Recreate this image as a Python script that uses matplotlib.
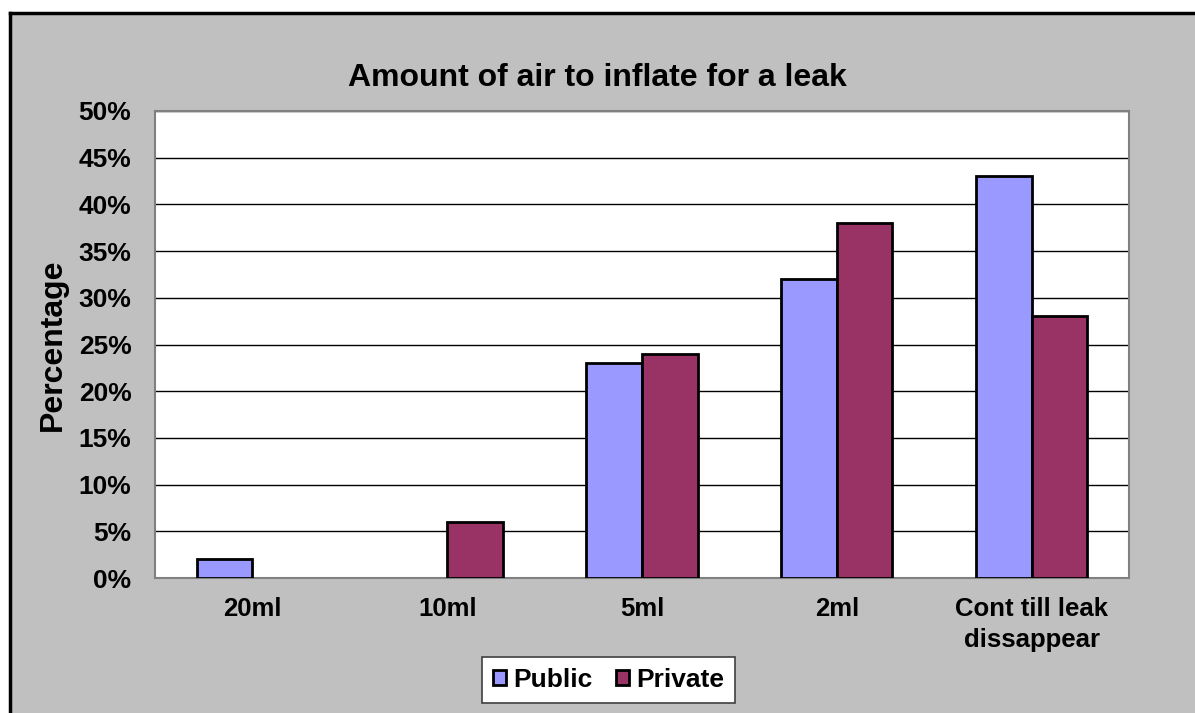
import matplotlib
matplotlib.use("Agg")
import matplotlib.pyplot as plt
import numpy as np
from matplotlib.patches import Rectangle
from matplotlib.lines import Line2D
from matplotlib.ticker import FuncFormatter, MultipleLocator

categories = ["20ml", "10ml", "5ml", "2ml", "Cont till leak\ndissappear"]
public = [2, 0, 23, 32, 43]
private = [0, 6, 24, 38, 28]
series_names = ["Public", "Private"]
title = "Amount of air to inflate for a leak"
ylabel = "Percentage"

plt.rcParams["font.family"] = ["Liberation Sans", "DejaVu Sans"]
plt.rcParams["font.weight"] = "bold"

W, H = 1195, 713
fig = plt.figure(figsize=(W / 100, H / 100), dpi=100, facecolor="white")

# chart area background with a black frame on the top and left
fig.patches.append(Rectangle((10 / W, 0), 1 - 10 / W, 1 - 13 / H,
                             transform=fig.transFigure, facecolor="#C0C0C0",
                             edgecolor="none", zorder=-2))
fig.lines.append(Line2D([10 / W, 10 / W], [0, 1 - 13 / H], transform=fig.transFigure,
                        color="black", lw=2.5, zorder=-1))
fig.lines.append(Line2D([10 / W, 1], [1 - 13 / H, 1 - 13 / H], transform=fig.transFigure,
                        color="black", lw=2.5, zorder=-1))

left, right, top, bottom = 155, 1129, 111, 578
ax = fig.add_axes([left / W, (H - bottom) / H, (right - left) / W, (bottom - top) / H])
ax.set_facecolor("white")

x = np.arange(len(categories))
bw = 1 / 3.5
ax.bar(x - bw / 2, public, bw, color="#9999FF", edgecolor="black",
       linewidth=[2 if v else 0 for v in public], label=series_names[0], zorder=3)
ax.bar(x + bw / 2, private, bw, color="#993366", edgecolor="black",
       linewidth=[2 if v else 0 for v in private], label=series_names[1], zorder=3)

ax.set_xlim(-0.5, len(categories) - 0.5)
ax.set_ylim(0, 50)
ax.yaxis.set_major_locator(MultipleLocator(5))
ax.yaxis.set_major_formatter(FuncFormatter(lambda v, p: f"{v:.0f}%"))
ax.yaxis.grid(True, color="black", linewidth=1, zorder=0)
ax.set_axisbelow(True)
ax.set_xticks(x)
ax.set_xticklabels(categories, fontsize=18.5, fontweight="bold", linespacing=1.35)
ax.tick_params(axis="x", length=0, pad=14)
ax.tick_params(axis="y", length=0, labelsize=19, pad=17)
for lab in ax.get_yticklabels():
    lab.set_fontweight("bold")

for s in ax.spines.values():
    s.set_color("#808080")
    s.set_linewidth(1.5)

ax.set_ylabel(ylabel, fontsize=23, fontweight="bold", va="center")
ax.yaxis.set_label_coords((53 - left) / (right - left), 0.5)
fig.text(0.5, 1 - 78 / H, title, ha="center", va="center", fontsize=23, fontweight="bold")

leg = fig.legend(loc="center", bbox_to_anchor=(608.5 / W, 1 - 680 / H), ncol=2,
                 prop={"weight": "bold", "size": 19}, frameon=True, fancybox=False,
                 handlelength=0.5, handleheight=0.5, handletextpad=0.27, columnspacing=0.9,
                 borderpad=0.42, borderaxespad=0)
for h in leg.legend_handles:
    h.set_edgecolor("black")
    h.set_linewidth(2)
leg.get_frame().set_edgecolor("#404040")
leg.get_frame().set_facecolor("white")
leg.get_frame().set_alpha(1)
leg.get_frame().set_linewidth(1.2)

fig.savefig("out.png", dpi=100, facecolor=fig.get_facecolor())
